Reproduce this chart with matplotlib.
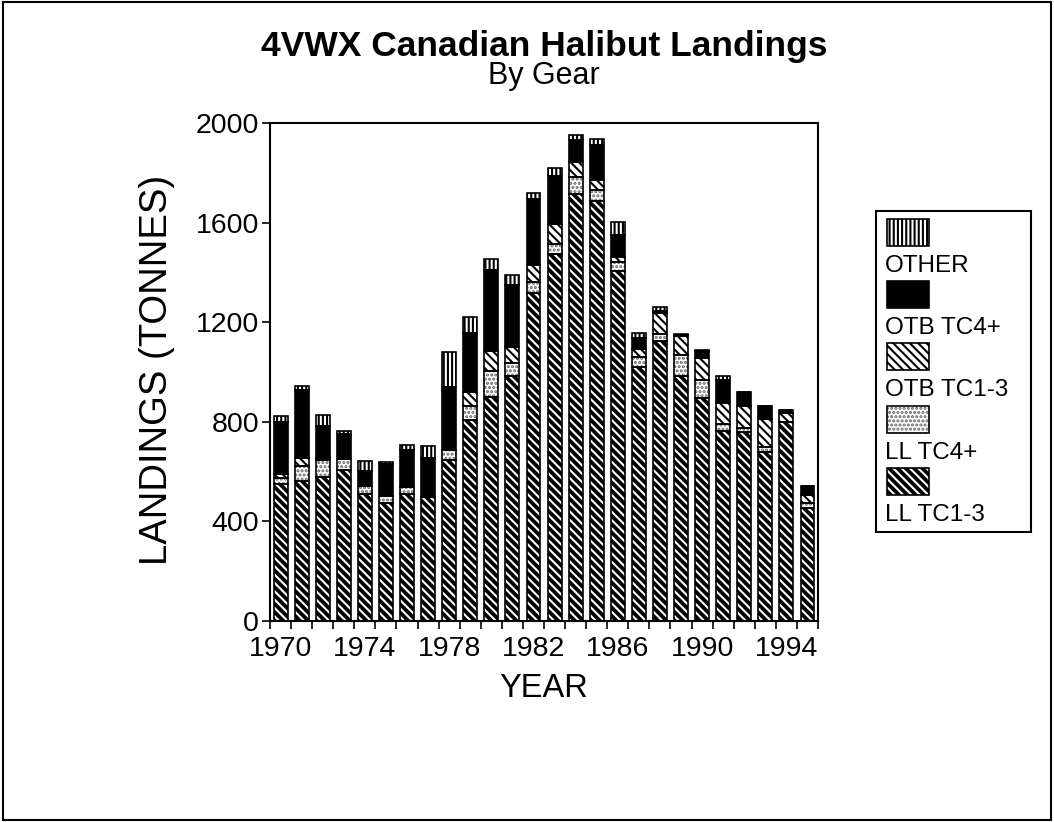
import numpy as np
import matplotlib
matplotlib.use("Agg")
import matplotlib.pyplot as plt
from matplotlib.patches import Rectangle

plt.rcParams['font.family'] = ['Liberation Sans', 'DejaVu Sans']
plt.rcParams['hatch.linewidth'] = 1.5

years = list(range(1970, 1996))
ll_tc13 = [552, 562, 579, 606, 512, 474, 509, 499, 646, 807, 900, 984, 1316,
           1474, 1715, 1685, 1407, 1019, 1126, 984, 894, 764, 760, 680, 800, 452]
ll_tc4 = [24, 61, 66, 43, 30, 29, 30, 0, 40, 56, 105, 51, 47,
          40, 70, 46, 36, 40, 27, 84, 74, 27, 17, 20, 0, 20]
otb_tc13 = [14, 30, 8, 0, 0, 0, 0, 0, 0, 58, 81, 66, 67,
            81, 60, 38, 20, 32, 83, 75, 87, 86, 86, 110, 35, 33]
otb_tc4 = [210, 274, 130, 104, 61, 127, 147, 154, 255, 234, 324, 249, 264,
           193, 85, 143, 88, 44, 10, 5, 28, 91, 58, 53, 12, 36]
other = [23, 18, 44, 11, 39, 7, 20, 51, 138, 67, 43, 40, 24,
         31, 20, 23, 53, 20, 14, 3, 5, 16, 0, 0, 0, 0]

series = [ll_tc13, ll_tc4, otb_tc13, otb_tc4, other]
labels = ["LL TC1-3", "LL TC4+", "OTB TC1-3", "OTB TC4+", "OTHER"]
# (facecolor, hatch, hatchcolor)
styles = [("black", "\\\\\\\\", "white"),
          ("white", "....", "#666666"),
          ("white", "\\\\\\\\", "black"),
          ("black", None, "black"),
          ("white", "||||", "black")]

fig = plt.figure(figsize=(10.54, 8.22), dpi=100)
ax = fig.add_axes([0.2562, 0.2445, 0.5199, 0.6059])

x = np.array(years)
bottom = np.zeros(len(years))
for vals, (fc, h, hc) in zip(series, styles):
    v = np.array(vals, dtype=float)
    ax.bar(x, v, width=0.66, bottom=bottom, facecolor=fc, hatch=h,
           edgecolor=hc, linewidth=0, zorder=2)
    ax.bar(x, v, width=0.66, bottom=bottom, fill=False,
           edgecolor="black", linewidth=1.2, zorder=3)
    bottom += v

ax.set_xlim(1969.5, 1995.5)
ax.set_ylim(0, 2000)
ax.set_yticks([0, 400, 800, 1200, 1600, 2000])
ax.set_xticks(list(range(1970, 1996, 4)))
ax.set_xticks(np.arange(1969.5, 1996, 1.0), minor=True)
ax.tick_params(axis='x', which='major', length=0, pad=10.5, labelsize=20.5)
ax.tick_params(axis='x', which='minor', length=6, width=1.2, direction='out')
ax.tick_params(axis='y', which='major', length=6, width=1.2, direction='out',
               pad=2, labelsize=20.5)
for s in ax.spines.values():
    s.set_linewidth(1.5)

fig.text(0.516, 0.944, "4VWX Canadian Halibut Landings", ha='center',
         va='center', fontsize=25.5, fontweight='bold')
fig.text(0.516, 0.907, "By Gear", ha='center', va='center', fontsize=22)
fig.text(0.516, 0.163, "YEAR", ha='center', va='center', fontsize=23.5)
fig.text(0.149, 0.55, "LANDINGS (TONNES)", ha='center', va='center',
         rotation=90, fontsize=27.5)

# legend box (drawn manually: patch above its label)
W, H = 1054.0, 822.0
def fx(px):
    return px / W
def fy(py):
    return 1 - py / H

fig.patches.append(Rectangle((fx(876), fy(532)), fx(1031) - fx(876),
                             fy(211) - fy(532), transform=fig.transFigure,
                             fill=False, edgecolor='black', linewidth=1.5))
entry_tops = [219, 281, 343, 406, 468]
for i, idx in enumerate([4, 3, 2, 1, 0]):
    fc, h, hc = styles[idx]
    top = entry_tops[i]
    rx, ry = fx(887), fy(top + 27)
    rw, rh = fx(929) - fx(887), fy(top) - fy(top + 27)
    fig.patches.append(Rectangle((rx, ry), rw, rh, transform=fig.transFigure,
                                 facecolor=fc, hatch=h, edgecolor=hc,
                                 linewidth=0))
    fig.patches.append(Rectangle((rx, ry), rw, rh, transform=fig.transFigure,
                                 fill=False, edgecolor='black', linewidth=1.2))
    fig.text(fx(885), fy(top + 47), labels[idx], ha='left', va='center',
             fontsize=17.5)

# outer frame
fig.patches.append(Rectangle((0.003, 0.003), 0.994, 0.994,
                             transform=fig.transFigure, fill=False,
                             edgecolor='black', linewidth=1.5))

fig.savefig("out.png", dpi=100)
